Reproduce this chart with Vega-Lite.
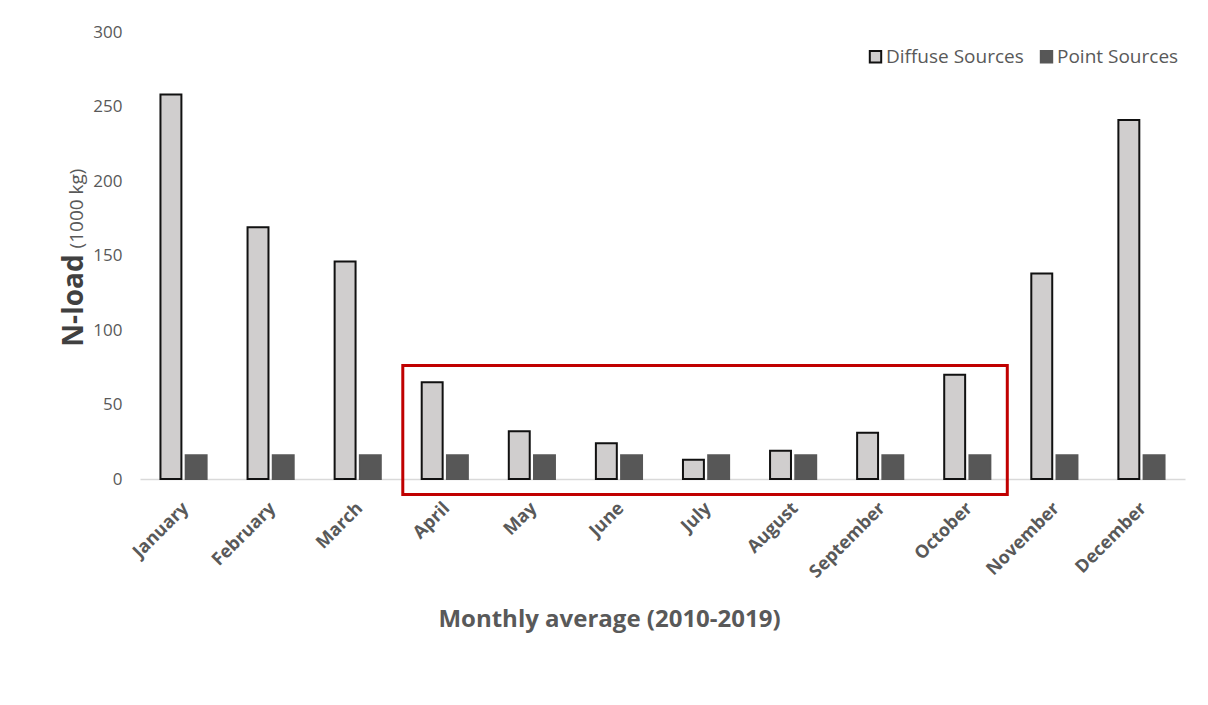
{
  "$schema": "https://vega.github.io/schema/vega-lite/v6.json",
  "width": 1045,
  "height": 447,
  "autosize": {"type": "none"},
  "padding": {"left": 140, "top": 32, "right": 23, "bottom": 226},
  "background": "white",
  "config": {
    "view": {"stroke": null},
    "font": "Open Sans"
  },
  "datasets": {
    "loads": [
      {"month": "January", "source": "Diffuse Sources", "load": 258},
      {"month": "January", "source": "Point Sources", "load": 16},
      {"month": "February", "source": "Diffuse Sources", "load": 169},
      {"month": "February", "source": "Point Sources", "load": 16},
      {"month": "March", "source": "Diffuse Sources", "load": 146},
      {"month": "March", "source": "Point Sources", "load": 16},
      {"month": "April", "source": "Diffuse Sources", "load": 65},
      {"month": "April", "source": "Point Sources", "load": 16},
      {"month": "May", "source": "Diffuse Sources", "load": 32},
      {"month": "May", "source": "Point Sources", "load": 16},
      {"month": "June", "source": "Diffuse Sources", "load": 24},
      {"month": "June", "source": "Point Sources", "load": 16},
      {"month": "July", "source": "Diffuse Sources", "load": 13},
      {"month": "July", "source": "Point Sources", "load": 16},
      {"month": "August", "source": "Diffuse Sources", "load": 19},
      {"month": "August", "source": "Point Sources", "load": 16},
      {"month": "September", "source": "Diffuse Sources", "load": 31},
      {"month": "September", "source": "Point Sources", "load": 16},
      {"month": "October", "source": "Diffuse Sources", "load": 70},
      {"month": "October", "source": "Point Sources", "load": 16},
      {"month": "November", "source": "Diffuse Sources", "load": 138},
      {"month": "November", "source": "Point Sources", "load": 16},
      {"month": "December", "source": "Diffuse Sources", "load": 241},
      {"month": "December", "source": "Point Sources", "load": 16}
    ],
    "highlight": [
      {"start": "April", "end": "October", "low": -10.4, "high": 76.2}
    ]
  },
  "layer": [
    {
      "data": {"name": "loads"},
      "mark": {"type": "bar", "strokeWidth": 2},
      "encoding": {
        "x": {
          "field": "month",
          "type": "nominal",
          "scale": {
            "domain": ["January","February","March","April","May","June","July","August","September","October","November","December"],
            "paddingInner": 0.47, "paddingOuter": 0.235
          },
          "axis": {
            "title": "Monthly average (2010-2019)",
            "titleFontSize": 24,
            "titleFontWeight": "bold",
            "titleColor": "#595959",
            "titleX": 469,
            "titleY": 140,
            "titleBaseline": "middle",
            "labelAngle": -45,
            "labelFontSize": 18,
            "labelFontWeight": "bold",
            "labelColor": "#595959",
            "labelPadding": 20,
            "labelOffset": -4,
            "ticks": false,
            "domainColor": "#d9d9d9",
            "domainWidth": 1.5,
            "grid": false
          }
        },
        "xOffset": {
          "field": "source",
          "type": "nominal",
          "scale": {"paddingInner": 0.17}
        },
        "y": {
          "field": "load",
          "type": "quantitative",
          "scale": {"domain": [0, 300], "nice": false},
          "axis": {
            "title": "N-load",
            "titleFontSize": 28,
            "titleFontWeight": "bold",
            "titleColor": "#404040",
            "titleX": -58,
            "titleY": 268,
            "titleBaseline": "alphabetic",
            "titleAlign": "center",
            "values": [0, 50, 100, 150, 200, 250, 300],
            "labelOverlap": false,
            "labelFontSize": 17,
            "labelColor": "#595959",
            "labelPadding": 18,
            "ticks": false,
            "domain": false,
            "grid": false
          }
        },
        "fill": {
          "field": "source",
          "type": "nominal",
          "scale": {"domain": ["Diffuse Sources", "Point Sources"], "range": ["#d0cece", "#575757"]},
          "legend": {
            "title": null,
            "orient": "none",
            "legendX": 726,
            "legendY": 15,
            "direction": "horizontal",
            "symbolType": "square",
            "symbolSize": 130,
            "symbolStrokeWidth": 2,
            "labelFontSize": 19,
            "labelColor": "#595959",
            "labelOffset": 1,
            "columnPadding": 12
          }
        },
        "stroke": {
          "field": "source",
          "type": "nominal",
          "scale": {"domain": ["Diffuse Sources", "Point Sources"], "range": ["#111111", "#575757"]},
          "legend": null
        }
      }
    },
    {
      "data": {"name": "highlight"},
      "mark": {"type": "rect", "fill": null, "stroke": "#c00000", "strokeWidth": 3, "xOffset": -42, "x2Offset": 40},
      "encoding": {
        "x": {"field": "start", "type": "nominal"},
        "x2": {"field": "end"},
        "y": {
          "field": "low",
          "type": "quantitative",
          "scale": {"domain": [0, 300], "nice": false},
          "axis": {
            "orient": "left",
            "title": "(1000 kg)",
            "titleFontSize": 19,
            "titleFontWeight": "normal",
            "titleColor": "#595959",
            "titleX": -58,
            "titleY": 176,
            "titleBaseline": "alphabetic",
            "titleAlign": "center",
            "labels": false,
            "ticks": false,
            "domain": false,
            "grid": false
          }
        },
        "y2": {"field": "high"}
      }
    }
  ],
  "resolve": {"scale": {"y": "independent"}}
}
